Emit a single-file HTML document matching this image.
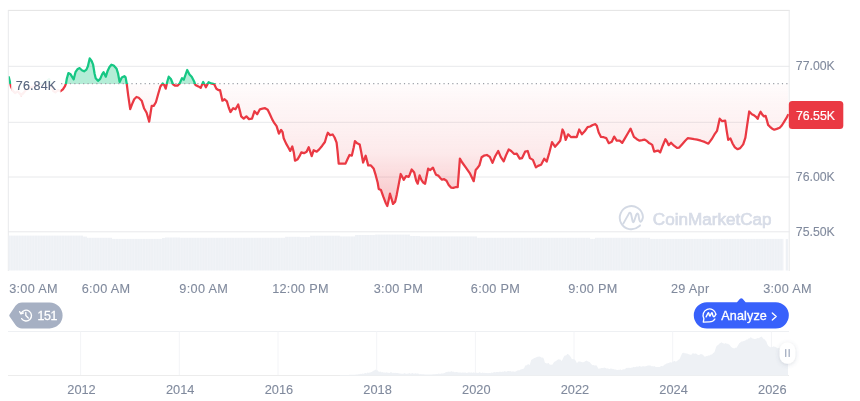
<!DOCTYPE html>
<html><head><meta charset="utf-8"><style>
html,body{margin:0;padding:0;background:#fff;width:860px;height:401px;overflow:hidden}
svg{position:absolute;left:0;top:0;display:block;will-change:transform}
text{font-family:"Liberation Sans", sans-serif}
</style></head><body>
<svg width="860" height="401" viewBox="0 0 860 401">
<defs>
<linearGradient id="rg" x1="0" y1="84" x2="0" y2="206" gradientUnits="userSpaceOnUse">
<stop offset="0.000" stop-color="#ea3943" stop-opacity="0.015"/>
<stop offset="0.156" stop-color="#ea3943" stop-opacity="0.045"/>
<stop offset="0.385" stop-color="#ea3943" stop-opacity="0.076"/>
<stop offset="0.566" stop-color="#ea3943" stop-opacity="0.11"/>
<stop offset="0.713" stop-color="#ea3943" stop-opacity="0.17"/>
<stop offset="0.861" stop-color="#ea3943" stop-opacity="0.24"/>
<stop offset="1.000" stop-color="#ea3943" stop-opacity="0.3"/>
</linearGradient>
<pattern id="vs" width="2.7" height="10" patternUnits="userSpaceOnUse"><rect width="2.7" height="10" fill="#eef1f5"/><rect x="2.1" width="0.6" height="10" fill="#f3f5f8"/></pattern>
<clipPath id="above"><rect x="8.8" y="0" width="780" height="84"/></clipPath>
<clipPath id="below"><rect x="8.8" y="84" width="780" height="300"/></clipPath>
</defs>
<!-- grid -->
<g stroke="#e8e9eb" stroke-width="1" fill="none">
<line x1="8" y1="10.4" x2="789.7" y2="10.4" stroke="#e3e3e3"/>
<line x1="8" y1="66.3" x2="789.7" y2="66.3"/>
<line x1="8" y1="122.3" x2="789.7" y2="122.3"/>
<line x1="8" y1="177" x2="789.7" y2="177"/>
<line x1="8" y1="231.8" x2="789.7" y2="231.8"/>
<line x1="8.3" y1="10" x2="8.3" y2="271"/>
<line x1="789.2" y1="10" x2="789.2" y2="271"/>
</g>
<!-- volume -->
<g fill="url(#vs)">
<rect x="8.5" y="235.6" width="74.5" height="34.9"/>
<rect x="83" y="236.6" width="4.0" height="33.9"/>
<rect x="87" y="237.8" width="25.0" height="32.7"/>
<rect x="112" y="238.9" width="50.0" height="31.6"/>
<rect x="162" y="238" width="3.0" height="32.5"/>
<rect x="165" y="237.5" width="15.0" height="33.0"/>
<rect x="180" y="237.8" width="105.0" height="32.7"/>
<rect x="285" y="236.8" width="15.0" height="33.7"/>
<rect x="300" y="237.1" width="10.0" height="33.4"/>
<rect x="310" y="235.7" width="30.0" height="34.8"/>
<rect x="340" y="236.4" width="15.0" height="34.1"/>
<rect x="355" y="235" width="20.0" height="35.5"/>
<rect x="375" y="234.6" width="35.0" height="35.9"/>
<rect x="410" y="236" width="10.0" height="34.5"/>
<rect x="420" y="236.4" width="57.0" height="34.1"/>
<rect x="477" y="237.8" width="113.0" height="32.7"/>
<rect x="590" y="238.9" width="5.0" height="31.6"/>
<rect x="595" y="237.8" width="55.0" height="32.7"/>
<rect x="650" y="238.9" width="133.4" height="31.6"/>
<rect x="785.7" y="239" width="2.3" height="31.5"/>
</g>
<!-- fills -->
<polygon points="8.8,77.1 11.0,86.5 13.0,91.0 15.0,93.0 18.0,91.5 21.0,95.0 23.0,93.5 26.0,90.0 30.0,88.0 35.0,86.0 40.0,84.0 45.0,83.0 49.0,79.0 53.2,91.0 55.4,92.4 58.0,90.0 60.3,91.3 62.9,89.4 65.0,86.2 66.0,83.4 66.8,78.7 68.4,73.1 70.6,74.3 73.7,79.3 75.6,71.8 77.4,69.3 79.3,68.1 80.0,68.5 81.9,70.3 84.1,71.3 86.4,69.6 87.9,66.2 89.7,58.4 91.6,61.0 93.1,64.7 94.6,73.7 95.7,78.2 98.0,80.8 100.2,78.9 102.1,74.4 103.6,72.2 105.8,76.7 107.7,70.7 109.5,67.0 111.4,64.7 113.7,65.5 116.6,68.8 118.1,73.7 119.6,81.9 121.8,77.4 124.3,76.2 125.6,77.4 126.7,83.5 128.2,95.4 130.2,109.2 132.0,104.4 134.2,99.2 136.5,97.0 138.7,97.7 141.7,100.7 144.0,108.2 146.6,112.7 149.2,121.6 151.7,105.9 153.7,105.9 155.9,102.2 158.2,94.0 160.4,86.5 162.7,83.5 164.2,85.0 165.7,88.7 167.2,82.0 168.7,76.7 170.9,79.0 173.0,84.2 175.2,85.7 177.5,85.7 179.7,83.4 182.0,78.2 183.8,79.7 187.2,70.0 189.5,74.5 191.7,76.7 194.0,81.2 195.4,84.9 198.4,86.4 200.7,87.9 203.2,82.0 205.9,87.2 208.6,82.2 211.2,83.4 214.2,84.2 216.4,88.7 218.7,90.2 220.1,90.2 222.4,100.7 224.6,99.2 226.9,101.4 228.7,107.5 230.5,112.0 233.2,108.2 235.5,109.3 238.2,104.5 240.0,111.2 241.2,116.4 243.7,118.7 246.4,116.4 249.0,119.1 252.0,118.7 254.5,111.2 257.2,114.2 259.9,109.3 262.4,108.7 265.1,108.2 267.7,109.7 269.9,114.2 272.2,119.4 274.4,123.2 276.6,126.2 278.9,133.7 281.1,129.9 282.6,132.2 283.7,138.2 286.0,143.4 288.2,147.2 290.2,150.9 292.3,146.4 293.8,152.4 295.0,160.7 297.7,159.2 299.5,156.2 301.3,152.4 304.0,153.2 306.6,151.7 308.7,147.2 310.2,151.7 311.7,156.2 313.7,150.2 316.7,151.7 319.2,149.4 322.2,145.7 324.9,142.0 326.4,136.7 327.9,132.7 330.1,135.2 332.7,134.5 334.6,137.5 336.6,142.7 337.6,151.7 338.7,163.6 341.7,163.6 345.5,163.6 347.7,158.7 349.5,155.0 351.8,155.7 353.7,147.5 354.9,141.2 357.2,143.3 359.7,144.5 361.2,152.0 363.1,162.5 365.7,155.7 368.2,165.4 370.9,165.4 373.6,168.4 375.7,175.2 377.7,182.7 378.7,188.9 381.0,190.1 383.2,196.4 385.5,202.4 387.3,206.1 388.8,199.4 390.0,193.7 391.5,198.7 393.0,203.9 395.2,201.6 396.7,194.9 399.0,182.9 400.7,174.0 402.7,177.7 403.7,179.9 406.1,176.2 408.7,176.9 409.7,174.7 411.7,169.5 414.2,172.5 416.2,180.7 417.7,183.7 419.6,175.4 421.4,179.9 422.9,182.2 425.1,183.7 426.6,176.2 428.1,168.7 430.1,170.2 433.0,167.7 434.5,171.4 436.0,174.7 438.2,175.6 440.5,178.2 442.0,179.7 444.2,179.2 446.5,180.7 448.7,184.9 451.0,187.6 453.2,187.9 455.4,187.2 457.7,187.2 459.9,158.7 462.2,162.5 465.9,167.7 470.1,173.7 471.9,177.4 473.7,181.2 475.7,169.9 477.6,167.7 479.4,165.4 481.6,157.2 483.9,155.7 486.9,155.0 489.8,156.9 492.5,162.9 495.2,156.2 498.2,151.0 500.7,156.9 503.7,161.4 506.0,155.4 508.7,149.5 511.2,151.0 514.2,154.0 516.7,153.7 519.7,158.7 522.1,158.1 525.1,151.7 527.7,151.0 529.9,158.1 532.9,159.9 535.9,167.4 538.1,165.9 541.1,164.7 544.2,158.7 546.7,161.6 549.3,152.7 552.0,142.2 555.0,146.7 557.7,143.7 560.2,140.7 562.5,129.5 564.0,132.5 565.7,139.9 568.1,134.3 571.1,137.2 573.7,136.9 576.7,137.2 579.2,129.5 581.9,134.3 584.9,131.0 587.6,127.2 590.1,126.5 592.7,125.0 595.4,124.2 596.8,125.7 598.7,132.5 601.0,136.9 603.7,137.2 606.2,138.1 608.8,143.2 611.8,141.7 614.2,136.6 616.7,140.7 619.7,140.7 622.2,142.9 624.9,138.4 627.9,133.2 630.6,128.7 632.4,133.2 633.9,136.9 636.9,139.2 639.6,140.7 642.2,140.2 644.4,139.6 646.6,140.7 648.9,142.9 650.0,143.4 652.2,144.9 654.2,151.6 656.7,150.9 658.2,150.6 660.2,152.4 662.7,145.7 665.4,139.2 666.8,141.2 668.7,145.2 671.0,142.7 674.0,145.7 677.0,147.9 679.2,147.6 682.2,144.2 685.2,140.7 687.7,138.2 691.2,138.6 694.2,139.2 697.2,139.7 700.9,140.7 704.6,141.9 708.4,143.7 711.7,139.2 714.3,134.7 717.0,130.9 719.7,118.7 722.2,121.2 725.2,120.7 726.7,130.9 728.2,139.9 730.4,138.4 732.7,143.7 734.9,147.4 737.6,149.2 740.2,148.1 743.2,144.4 745.4,137.7 747.2,124.9 749.2,111.5 751.9,114.3 754.4,115.6 756.0,116.8 757.7,118.9 759.0,114.9 760.6,111.8 762.5,114.9 764.0,116.4 765.6,115.9 766.8,119.9 768.1,124.9 770.0,126.8 772.2,128.7 774.3,129.7 776.8,128.9 779.7,127.7 781.8,125.5 783.9,122.2 786.2,118.4 788.0,114.9 788.0,84.0 8.8,84.0" fill="url(#rg)" clip-path="url(#below)"/>
<polygon points="8.8,77.1 11.0,86.5 13.0,91.0 15.0,93.0 18.0,91.5 21.0,95.0 23.0,93.5 26.0,90.0 30.0,88.0 35.0,86.0 40.0,84.0 45.0,83.0 49.0,79.0 53.2,91.0 55.4,92.4 58.0,90.0 60.3,91.3 62.9,89.4 65.0,86.2 66.0,83.4 66.8,78.7 68.4,73.1 70.6,74.3 73.7,79.3 75.6,71.8 77.4,69.3 79.3,68.1 80.0,68.5 81.9,70.3 84.1,71.3 86.4,69.6 87.9,66.2 89.7,58.4 91.6,61.0 93.1,64.7 94.6,73.7 95.7,78.2 98.0,80.8 100.2,78.9 102.1,74.4 103.6,72.2 105.8,76.7 107.7,70.7 109.5,67.0 111.4,64.7 113.7,65.5 116.6,68.8 118.1,73.7 119.6,81.9 121.8,77.4 124.3,76.2 125.6,77.4 126.7,83.5 128.2,95.4 130.2,109.2 132.0,104.4 134.2,99.2 136.5,97.0 138.7,97.7 141.7,100.7 144.0,108.2 146.6,112.7 149.2,121.6 151.7,105.9 153.7,105.9 155.9,102.2 158.2,94.0 160.4,86.5 162.7,83.5 164.2,85.0 165.7,88.7 167.2,82.0 168.7,76.7 170.9,79.0 173.0,84.2 175.2,85.7 177.5,85.7 179.7,83.4 182.0,78.2 183.8,79.7 187.2,70.0 189.5,74.5 191.7,76.7 194.0,81.2 195.4,84.9 198.4,86.4 200.7,87.9 203.2,82.0 205.9,87.2 208.6,82.2 211.2,83.4 214.2,84.2 216.4,88.7 218.7,90.2 220.1,90.2 222.4,100.7 224.6,99.2 226.9,101.4 228.7,107.5 230.5,112.0 233.2,108.2 235.5,109.3 238.2,104.5 240.0,111.2 241.2,116.4 243.7,118.7 246.4,116.4 249.0,119.1 252.0,118.7 254.5,111.2 257.2,114.2 259.9,109.3 262.4,108.7 265.1,108.2 267.7,109.7 269.9,114.2 272.2,119.4 274.4,123.2 276.6,126.2 278.9,133.7 281.1,129.9 282.6,132.2 283.7,138.2 286.0,143.4 288.2,147.2 290.2,150.9 292.3,146.4 293.8,152.4 295.0,160.7 297.7,159.2 299.5,156.2 301.3,152.4 304.0,153.2 306.6,151.7 308.7,147.2 310.2,151.7 311.7,156.2 313.7,150.2 316.7,151.7 319.2,149.4 322.2,145.7 324.9,142.0 326.4,136.7 327.9,132.7 330.1,135.2 332.7,134.5 334.6,137.5 336.6,142.7 337.6,151.7 338.7,163.6 341.7,163.6 345.5,163.6 347.7,158.7 349.5,155.0 351.8,155.7 353.7,147.5 354.9,141.2 357.2,143.3 359.7,144.5 361.2,152.0 363.1,162.5 365.7,155.7 368.2,165.4 370.9,165.4 373.6,168.4 375.7,175.2 377.7,182.7 378.7,188.9 381.0,190.1 383.2,196.4 385.5,202.4 387.3,206.1 388.8,199.4 390.0,193.7 391.5,198.7 393.0,203.9 395.2,201.6 396.7,194.9 399.0,182.9 400.7,174.0 402.7,177.7 403.7,179.9 406.1,176.2 408.7,176.9 409.7,174.7 411.7,169.5 414.2,172.5 416.2,180.7 417.7,183.7 419.6,175.4 421.4,179.9 422.9,182.2 425.1,183.7 426.6,176.2 428.1,168.7 430.1,170.2 433.0,167.7 434.5,171.4 436.0,174.7 438.2,175.6 440.5,178.2 442.0,179.7 444.2,179.2 446.5,180.7 448.7,184.9 451.0,187.6 453.2,187.9 455.4,187.2 457.7,187.2 459.9,158.7 462.2,162.5 465.9,167.7 470.1,173.7 471.9,177.4 473.7,181.2 475.7,169.9 477.6,167.7 479.4,165.4 481.6,157.2 483.9,155.7 486.9,155.0 489.8,156.9 492.5,162.9 495.2,156.2 498.2,151.0 500.7,156.9 503.7,161.4 506.0,155.4 508.7,149.5 511.2,151.0 514.2,154.0 516.7,153.7 519.7,158.7 522.1,158.1 525.1,151.7 527.7,151.0 529.9,158.1 532.9,159.9 535.9,167.4 538.1,165.9 541.1,164.7 544.2,158.7 546.7,161.6 549.3,152.7 552.0,142.2 555.0,146.7 557.7,143.7 560.2,140.7 562.5,129.5 564.0,132.5 565.7,139.9 568.1,134.3 571.1,137.2 573.7,136.9 576.7,137.2 579.2,129.5 581.9,134.3 584.9,131.0 587.6,127.2 590.1,126.5 592.7,125.0 595.4,124.2 596.8,125.7 598.7,132.5 601.0,136.9 603.7,137.2 606.2,138.1 608.8,143.2 611.8,141.7 614.2,136.6 616.7,140.7 619.7,140.7 622.2,142.9 624.9,138.4 627.9,133.2 630.6,128.7 632.4,133.2 633.9,136.9 636.9,139.2 639.6,140.7 642.2,140.2 644.4,139.6 646.6,140.7 648.9,142.9 650.0,143.4 652.2,144.9 654.2,151.6 656.7,150.9 658.2,150.6 660.2,152.4 662.7,145.7 665.4,139.2 666.8,141.2 668.7,145.2 671.0,142.7 674.0,145.7 677.0,147.9 679.2,147.6 682.2,144.2 685.2,140.7 687.7,138.2 691.2,138.6 694.2,139.2 697.2,139.7 700.9,140.7 704.6,141.9 708.4,143.7 711.7,139.2 714.3,134.7 717.0,130.9 719.7,118.7 722.2,121.2 725.2,120.7 726.7,130.9 728.2,139.9 730.4,138.4 732.7,143.7 734.9,147.4 737.6,149.2 740.2,148.1 743.2,144.4 745.4,137.7 747.2,124.9 749.2,111.5 751.9,114.3 754.4,115.6 756.0,116.8 757.7,118.9 759.0,114.9 760.6,111.8 762.5,114.9 764.0,116.4 765.6,115.9 766.8,119.9 768.1,124.9 770.0,126.8 772.2,128.7 774.3,129.7 776.8,128.9 779.7,127.7 781.8,125.5 783.9,122.2 786.2,118.4 788.0,114.9 788.0,84.0 8.8,84.0" fill="#16c784" fill-opacity="0.32" clip-path="url(#above)"/>
<!-- watermark -->
<g opacity="1">
<g fill="none" stroke="#d3d9e4" stroke-width="1.9" stroke-linecap="round" stroke-linejoin="round">
<path d="M642.9,216.5 A11.6,11.6 0 1 0 638.8,226.6 Q639.6,226 640,225.4"/>
<path d="M623.3,223.6 L628.9,213.6 Q630,211.8 631,213.8 L632.6,221.3 Q633.2,223.2 634.1,221.3 L636.3,214.6 Q637.4,212.3 638.4,214.7 L639.3,219.8 Q640.2,223.4 641.9,220.6 L642.9,217.6"/>
</g>
<text x="652.8" y="224.6" font-size="17.1" fill="#d7dce7" stroke="#d7dce7" stroke-width="0.7">CoinMarketCap</text>
</g>
<!-- baseline dotted -->
<line x1="61.1" y1="83.6" x2="788" y2="83.6" stroke="#9da1a8" stroke-width="1.1" stroke-dasharray="1.2 3.195"/>
<!-- line -->
<polyline points="8.8,77.1 11.0,86.5 13.0,91.0 15.0,93.0 18.0,91.5 21.0,95.0 23.0,93.5 26.0,90.0 30.0,88.0 35.0,86.0 40.0,84.0 45.0,83.0 49.0,79.0 53.2,91.0 55.4,92.4 58.0,90.0 60.3,91.3 62.9,89.4 65.0,86.2 66.0,83.4 66.8,78.7 68.4,73.1 70.6,74.3 73.7,79.3 75.6,71.8 77.4,69.3 79.3,68.1 80.0,68.5 81.9,70.3 84.1,71.3 86.4,69.6 87.9,66.2 89.7,58.4 91.6,61.0 93.1,64.7 94.6,73.7 95.7,78.2 98.0,80.8 100.2,78.9 102.1,74.4 103.6,72.2 105.8,76.7 107.7,70.7 109.5,67.0 111.4,64.7 113.7,65.5 116.6,68.8 118.1,73.7 119.6,81.9 121.8,77.4 124.3,76.2 125.6,77.4 126.7,83.5 128.2,95.4 130.2,109.2 132.0,104.4 134.2,99.2 136.5,97.0 138.7,97.7 141.7,100.7 144.0,108.2 146.6,112.7 149.2,121.6 151.7,105.9 153.7,105.9 155.9,102.2 158.2,94.0 160.4,86.5 162.7,83.5 164.2,85.0 165.7,88.7 167.2,82.0 168.7,76.7 170.9,79.0 173.0,84.2 175.2,85.7 177.5,85.7 179.7,83.4 182.0,78.2 183.8,79.7 187.2,70.0 189.5,74.5 191.7,76.7 194.0,81.2 195.4,84.9 198.4,86.4 200.7,87.9 203.2,82.0 205.9,87.2 208.6,82.2 211.2,83.4 214.2,84.2 216.4,88.7 218.7,90.2 220.1,90.2 222.4,100.7 224.6,99.2 226.9,101.4 228.7,107.5 230.5,112.0 233.2,108.2 235.5,109.3 238.2,104.5 240.0,111.2 241.2,116.4 243.7,118.7 246.4,116.4 249.0,119.1 252.0,118.7 254.5,111.2 257.2,114.2 259.9,109.3 262.4,108.7 265.1,108.2 267.7,109.7 269.9,114.2 272.2,119.4 274.4,123.2 276.6,126.2 278.9,133.7 281.1,129.9 282.6,132.2 283.7,138.2 286.0,143.4 288.2,147.2 290.2,150.9 292.3,146.4 293.8,152.4 295.0,160.7 297.7,159.2 299.5,156.2 301.3,152.4 304.0,153.2 306.6,151.7 308.7,147.2 310.2,151.7 311.7,156.2 313.7,150.2 316.7,151.7 319.2,149.4 322.2,145.7 324.9,142.0 326.4,136.7 327.9,132.7 330.1,135.2 332.7,134.5 334.6,137.5 336.6,142.7 337.6,151.7 338.7,163.6 341.7,163.6 345.5,163.6 347.7,158.7 349.5,155.0 351.8,155.7 353.7,147.5 354.9,141.2 357.2,143.3 359.7,144.5 361.2,152.0 363.1,162.5 365.7,155.7 368.2,165.4 370.9,165.4 373.6,168.4 375.7,175.2 377.7,182.7 378.7,188.9 381.0,190.1 383.2,196.4 385.5,202.4 387.3,206.1 388.8,199.4 390.0,193.7 391.5,198.7 393.0,203.9 395.2,201.6 396.7,194.9 399.0,182.9 400.7,174.0 402.7,177.7 403.7,179.9 406.1,176.2 408.7,176.9 409.7,174.7 411.7,169.5 414.2,172.5 416.2,180.7 417.7,183.7 419.6,175.4 421.4,179.9 422.9,182.2 425.1,183.7 426.6,176.2 428.1,168.7 430.1,170.2 433.0,167.7 434.5,171.4 436.0,174.7 438.2,175.6 440.5,178.2 442.0,179.7 444.2,179.2 446.5,180.7 448.7,184.9 451.0,187.6 453.2,187.9 455.4,187.2 457.7,187.2 459.9,158.7 462.2,162.5 465.9,167.7 470.1,173.7 471.9,177.4 473.7,181.2 475.7,169.9 477.6,167.7 479.4,165.4 481.6,157.2 483.9,155.7 486.9,155.0 489.8,156.9 492.5,162.9 495.2,156.2 498.2,151.0 500.7,156.9 503.7,161.4 506.0,155.4 508.7,149.5 511.2,151.0 514.2,154.0 516.7,153.7 519.7,158.7 522.1,158.1 525.1,151.7 527.7,151.0 529.9,158.1 532.9,159.9 535.9,167.4 538.1,165.9 541.1,164.7 544.2,158.7 546.7,161.6 549.3,152.7 552.0,142.2 555.0,146.7 557.7,143.7 560.2,140.7 562.5,129.5 564.0,132.5 565.7,139.9 568.1,134.3 571.1,137.2 573.7,136.9 576.7,137.2 579.2,129.5 581.9,134.3 584.9,131.0 587.6,127.2 590.1,126.5 592.7,125.0 595.4,124.2 596.8,125.7 598.7,132.5 601.0,136.9 603.7,137.2 606.2,138.1 608.8,143.2 611.8,141.7 614.2,136.6 616.7,140.7 619.7,140.7 622.2,142.9 624.9,138.4 627.9,133.2 630.6,128.7 632.4,133.2 633.9,136.9 636.9,139.2 639.6,140.7 642.2,140.2 644.4,139.6 646.6,140.7 648.9,142.9 650.0,143.4 652.2,144.9 654.2,151.6 656.7,150.9 658.2,150.6 660.2,152.4 662.7,145.7 665.4,139.2 666.8,141.2 668.7,145.2 671.0,142.7 674.0,145.7 677.0,147.9 679.2,147.6 682.2,144.2 685.2,140.7 687.7,138.2 691.2,138.6 694.2,139.2 697.2,139.7 700.9,140.7 704.6,141.9 708.4,143.7 711.7,139.2 714.3,134.7 717.0,130.9 719.7,118.7 722.2,121.2 725.2,120.7 726.7,130.9 728.2,139.9 730.4,138.4 732.7,143.7 734.9,147.4 737.6,149.2 740.2,148.1 743.2,144.4 745.4,137.7 747.2,124.9 749.2,111.5 751.9,114.3 754.4,115.6 756.0,116.8 757.7,118.9 759.0,114.9 760.6,111.8 762.5,114.9 764.0,116.4 765.6,115.9 766.8,119.9 768.1,124.9 770.0,126.8 772.2,128.7 774.3,129.7 776.8,128.9 779.7,127.7 781.8,125.5 783.9,122.2 786.2,118.4 788.0,114.9" fill="none" stroke="#ea3943" stroke-width="2.25" stroke-linejoin="round" stroke-linecap="round" clip-path="url(#below)"/>
<polyline points="8.8,77.1 11.0,86.5 13.0,91.0 15.0,93.0 18.0,91.5 21.0,95.0 23.0,93.5 26.0,90.0 30.0,88.0 35.0,86.0 40.0,84.0 45.0,83.0 49.0,79.0 53.2,91.0 55.4,92.4 58.0,90.0 60.3,91.3 62.9,89.4 65.0,86.2 66.0,83.4 66.8,78.7 68.4,73.1 70.6,74.3 73.7,79.3 75.6,71.8 77.4,69.3 79.3,68.1 80.0,68.5 81.9,70.3 84.1,71.3 86.4,69.6 87.9,66.2 89.7,58.4 91.6,61.0 93.1,64.7 94.6,73.7 95.7,78.2 98.0,80.8 100.2,78.9 102.1,74.4 103.6,72.2 105.8,76.7 107.7,70.7 109.5,67.0 111.4,64.7 113.7,65.5 116.6,68.8 118.1,73.7 119.6,81.9 121.8,77.4 124.3,76.2 125.6,77.4 126.7,83.5 128.2,95.4 130.2,109.2 132.0,104.4 134.2,99.2 136.5,97.0 138.7,97.7 141.7,100.7 144.0,108.2 146.6,112.7 149.2,121.6 151.7,105.9 153.7,105.9 155.9,102.2 158.2,94.0 160.4,86.5 162.7,83.5 164.2,85.0 165.7,88.7 167.2,82.0 168.7,76.7 170.9,79.0 173.0,84.2 175.2,85.7 177.5,85.7 179.7,83.4 182.0,78.2 183.8,79.7 187.2,70.0 189.5,74.5 191.7,76.7 194.0,81.2 195.4,84.9 198.4,86.4 200.7,87.9 203.2,82.0 205.9,87.2 208.6,82.2 211.2,83.4 214.2,84.2 216.4,88.7 218.7,90.2 220.1,90.2 222.4,100.7 224.6,99.2 226.9,101.4 228.7,107.5 230.5,112.0 233.2,108.2 235.5,109.3 238.2,104.5 240.0,111.2 241.2,116.4 243.7,118.7 246.4,116.4 249.0,119.1 252.0,118.7 254.5,111.2 257.2,114.2 259.9,109.3 262.4,108.7 265.1,108.2 267.7,109.7 269.9,114.2 272.2,119.4 274.4,123.2 276.6,126.2 278.9,133.7 281.1,129.9 282.6,132.2 283.7,138.2 286.0,143.4 288.2,147.2 290.2,150.9 292.3,146.4 293.8,152.4 295.0,160.7 297.7,159.2 299.5,156.2 301.3,152.4 304.0,153.2 306.6,151.7 308.7,147.2 310.2,151.7 311.7,156.2 313.7,150.2 316.7,151.7 319.2,149.4 322.2,145.7 324.9,142.0 326.4,136.7 327.9,132.7 330.1,135.2 332.7,134.5 334.6,137.5 336.6,142.7 337.6,151.7 338.7,163.6 341.7,163.6 345.5,163.6 347.7,158.7 349.5,155.0 351.8,155.7 353.7,147.5 354.9,141.2 357.2,143.3 359.7,144.5 361.2,152.0 363.1,162.5 365.7,155.7 368.2,165.4 370.9,165.4 373.6,168.4 375.7,175.2 377.7,182.7 378.7,188.9 381.0,190.1 383.2,196.4 385.5,202.4 387.3,206.1 388.8,199.4 390.0,193.7 391.5,198.7 393.0,203.9 395.2,201.6 396.7,194.9 399.0,182.9 400.7,174.0 402.7,177.7 403.7,179.9 406.1,176.2 408.7,176.9 409.7,174.7 411.7,169.5 414.2,172.5 416.2,180.7 417.7,183.7 419.6,175.4 421.4,179.9 422.9,182.2 425.1,183.7 426.6,176.2 428.1,168.7 430.1,170.2 433.0,167.7 434.5,171.4 436.0,174.7 438.2,175.6 440.5,178.2 442.0,179.7 444.2,179.2 446.5,180.7 448.7,184.9 451.0,187.6 453.2,187.9 455.4,187.2 457.7,187.2 459.9,158.7 462.2,162.5 465.9,167.7 470.1,173.7 471.9,177.4 473.7,181.2 475.7,169.9 477.6,167.7 479.4,165.4 481.6,157.2 483.9,155.7 486.9,155.0 489.8,156.9 492.5,162.9 495.2,156.2 498.2,151.0 500.7,156.9 503.7,161.4 506.0,155.4 508.7,149.5 511.2,151.0 514.2,154.0 516.7,153.7 519.7,158.7 522.1,158.1 525.1,151.7 527.7,151.0 529.9,158.1 532.9,159.9 535.9,167.4 538.1,165.9 541.1,164.7 544.2,158.7 546.7,161.6 549.3,152.7 552.0,142.2 555.0,146.7 557.7,143.7 560.2,140.7 562.5,129.5 564.0,132.5 565.7,139.9 568.1,134.3 571.1,137.2 573.7,136.9 576.7,137.2 579.2,129.5 581.9,134.3 584.9,131.0 587.6,127.2 590.1,126.5 592.7,125.0 595.4,124.2 596.8,125.7 598.7,132.5 601.0,136.9 603.7,137.2 606.2,138.1 608.8,143.2 611.8,141.7 614.2,136.6 616.7,140.7 619.7,140.7 622.2,142.9 624.9,138.4 627.9,133.2 630.6,128.7 632.4,133.2 633.9,136.9 636.9,139.2 639.6,140.7 642.2,140.2 644.4,139.6 646.6,140.7 648.9,142.9 650.0,143.4 652.2,144.9 654.2,151.6 656.7,150.9 658.2,150.6 660.2,152.4 662.7,145.7 665.4,139.2 666.8,141.2 668.7,145.2 671.0,142.7 674.0,145.7 677.0,147.9 679.2,147.6 682.2,144.2 685.2,140.7 687.7,138.2 691.2,138.6 694.2,139.2 697.2,139.7 700.9,140.7 704.6,141.9 708.4,143.7 711.7,139.2 714.3,134.7 717.0,130.9 719.7,118.7 722.2,121.2 725.2,120.7 726.7,130.9 728.2,139.9 730.4,138.4 732.7,143.7 734.9,147.4 737.6,149.2 740.2,148.1 743.2,144.4 745.4,137.7 747.2,124.9 749.2,111.5 751.9,114.3 754.4,115.6 756.0,116.8 757.7,118.9 759.0,114.9 760.6,111.8 762.5,114.9 764.0,116.4 765.6,115.9 766.8,119.9 768.1,124.9 770.0,126.8 772.2,128.7 774.3,129.7 776.8,128.9 779.7,127.7 781.8,125.5 783.9,122.2 786.2,118.4 788.0,114.9" fill="none" stroke="#16c784" stroke-width="2.25" stroke-linejoin="round" stroke-linecap="round" clip-path="url(#above)"/>
<!-- left label -->
<rect x="11.2" y="74" width="49.3" height="22" fill="#fff" fill-opacity="0.93"/>
<text x="15.8" y="89.7" font-size="12.5" fill="#58667e" stroke="#58667e" stroke-width="0.15" letter-spacing="0.15">76.84K</text>
<!-- right labels -->
<g font-size="12.3" fill="#808a9d" stroke="#808a9d" stroke-width="0.1">
<text x="795.8" y="70.2">77.00K</text>
<text x="795.8" y="181">76.00K</text>
<text x="795.8" y="236">75.50K</text>
</g>
<rect x="788.8" y="101" width="54.5" height="28" rx="3.5" fill="#ea3943"/>
<text x="796" y="120" font-size="12.3" fill="#fff" stroke="#fff" stroke-width="0.2">76.55K</text>
<!-- x labels -->
<g font-size="12.7" fill="#808a9d" stroke="#808a9d" stroke-width="0.1" text-anchor="middle" letter-spacing="0.3">
<text x="33.5" y="293">3:00 AM</text>
<text x="106" y="293">6:00 AM</text>
<text x="203.7" y="293">9:00 AM</text>
<text x="300.5" y="293">12:00 PM</text>
<text x="398.4" y="293">3:00 PM</text>
<text x="495.5" y="293">6:00 PM</text>
<text x="592.9" y="293">9:00 PM</text>
<text x="690.2" y="293">29 Apr</text>
<text x="787.5" y="293">3:00 AM</text>
</g>
<!-- badge 151 -->
<path d="M9.6,314.6 Q8.8,315.5 9.6,316.4 L15.5,325 Q18,328.4 22,328.4 L49.6,328.4 A13,13 0 0 0 49.6,302.4 L22,302.4 Q18,302.4 15.5,305.8 Z" fill="#a6b0c3"/>
<g fill="none" stroke="#fff" stroke-width="1.35" stroke-linecap="round" stroke-linejoin="round">
<path d="M21.2,313.3 A5.4,5.4 0 1 1 21.6,318.6"/>
<path d="M19.6,311.6 L20.9,313.9 L23.3,313"/>
<path d="M25.8,312.4 L25.8,315.6 L28.3,318"/>
</g>
<text x="37.6" y="320" font-size="12.4" fill="#fff" stroke="#fff" stroke-width="0.3" letter-spacing="-0.5">151</text>
<!-- analyze -->
<path d="M706.9,302.2 L737,302.2 L740,298.8 Q741.3,297.6 742.6,298.8 L745.6,302.2 L775.7,302.2 A13.15,13.15 0 0 1 775.7,328.5 L706.9,328.5 A13.15,13.15 0 0 1 706.9,302.2 Z" fill="#3861fb"/>
<g fill="none" stroke="#fff" stroke-width="1.35" stroke-linecap="round" stroke-linejoin="round">
<path d="M715.9,314.2 A6.5,6.5 0 1 0 703.9,318.7 L703.3,322.1 L709.5,321.9 A6.5,6.5 0 0 0 714.9,319"/>
<path d="M706.1,316.9 L708,313.1 Q708.4,312.4 708.8,313.1 L709.5,315.8 Q709.8,316.5 710.2,315.8 L711.5,313.1 Q711.9,312.4 712.3,313.1 L712.9,315.8 Q713.4,317.3 714.6,316.4 L715.8,314.3"/>
<path d="M772.3,313 L776.2,316.5 L772.3,320"/>
</g>
<text x="721.3" y="320" font-size="12.6" fill="#fff" stroke="#fff" stroke-width="0.3" letter-spacing="0.12">Analyze</text>
<!-- navigator -->
<g stroke="#f3f4f7" stroke-width="1" fill="none">
<line x1="8" y1="331.5" stroke="#eef0f3" x2="789" y2="331.5"/>
<line x1="8" y1="375.5" x2="789" y2="375.5" stroke="#ececec"/>
<line x1="80.6" y1="331.5" x2="80.6" y2="375"/>
<line x1="179.3" y1="331.5" x2="179.3" y2="375"/>
<line x1="278.0" y1="331.5" x2="278.0" y2="375"/>
<line x1="376.7" y1="331.5" x2="376.7" y2="375"/>
<line x1="475.4" y1="331.5" x2="475.4" y2="375"/>
<line x1="574.0" y1="331.5" x2="574.0" y2="375"/>
<line x1="672.7" y1="331.5" x2="672.7" y2="375"/>
<line x1="771.4" y1="331.5" x2="771.4" y2="375"/>
</g>
<polygon points="340.0,375.1 340.8,375.1 341.6,375.1 342.4,375.0 343.2,375.0 344.0,375.0 344.8,375.0 345.6,374.9 346.4,374.9 347.2,374.9 348.0,374.9 348.8,374.9 349.6,374.8 350.4,374.8 351.2,374.8 352.0,374.8 352.8,374.8 353.6,374.7 354.4,374.7 355.2,374.7 356.0,374.6 356.8,374.5 357.6,374.4 358.4,374.3 359.2,374.2 360.0,374.1 360.8,373.7 361.6,373.9 362.4,373.6 363.2,373.7 364.0,373.7 364.8,373.1 365.6,372.9 366.4,373.5 367.2,372.8 368.0,372.6 368.8,373.1 369.6,372.4 370.4,372.6 371.2,372.1 372.0,371.9 372.8,370.9 373.6,370.8 374.4,370.4 375.2,369.6 376.0,370.1 376.8,370.4 377.6,370.3 378.4,371.4 379.2,371.7 380.0,371.8 380.8,371.6 381.6,372.4 382.4,372.1 383.2,372.4 384.0,372.6 384.8,372.5 385.6,372.7 386.4,372.3 387.2,372.7 388.0,372.4 388.8,372.9 389.6,372.9 390.4,372.2 391.2,372.3 392.0,372.4 392.8,373.2 393.6,372.8 394.4,373.0 395.2,372.8 396.0,373.0 396.8,373.0 397.6,373.0 398.4,373.3 399.2,373.3 400.0,373.7 400.8,373.5 401.6,373.8 402.4,373.7 403.2,373.8 404.0,373.6 404.8,373.1 405.6,373.7 406.4,373.8 407.2,373.8 408.0,373.5 408.8,373.6 409.6,373.1 410.4,373.7 411.2,373.5 412.0,373.2 412.8,373.0 413.6,373.7 414.4,373.8 415.2,373.1 416.0,373.8 416.8,373.6 417.6,373.4 418.4,373.6 419.2,374.2 420.0,374.3 420.8,374.1 421.6,374.2 422.4,374.2 423.2,374.3 424.0,374.3 424.8,374.4 425.6,374.4 426.4,374.4 427.2,374.5 428.0,374.5 428.8,374.6 429.6,374.6 430.4,374.5 431.2,374.5 432.0,374.4 432.8,374.3 433.6,374.3 434.4,374.2 435.2,374.2 436.0,374.1 436.8,374.1 437.6,374.0 438.4,373.5 439.2,374.0 440.0,373.4 440.8,373.9 441.6,373.3 442.4,373.6 443.2,373.5 444.0,372.9 444.8,373.1 445.6,372.2 446.4,371.9 447.2,372.2 448.0,371.6 448.8,371.7 449.6,371.8 450.4,371.8 451.2,371.3 452.0,371.2 452.8,372.0 453.6,371.6 454.4,372.3 455.2,372.3 456.0,371.9 456.8,372.0 457.6,372.2 458.4,372.4 459.2,372.4 460.0,372.4 460.8,372.5 461.6,372.8 462.4,372.5 463.2,372.5 464.0,372.8 464.8,372.4 465.6,372.5 466.4,373.1 467.2,372.7 468.0,372.7 468.8,372.3 469.6,372.6 470.4,372.8 471.2,372.3 472.0,372.8 472.8,372.8 473.6,372.3 474.4,372.8 475.2,372.7 476.0,372.9 476.8,372.6 477.6,372.9 478.4,372.9 479.2,372.3 480.0,372.3 480.8,372.9 481.6,373.1 482.4,372.6 483.2,372.8 484.0,373.0 484.8,372.8 485.6,372.9 486.4,372.9 487.2,373.1 488.0,373.3 488.8,373.1 489.6,373.0 490.4,373.3 491.2,372.4 492.0,372.8 492.8,372.8 493.6,372.3 494.4,372.1 495.2,372.5 496.0,372.0 496.8,371.9 497.6,372.1 498.4,372.3 499.2,371.7 500.0,371.8 500.8,371.7 501.6,372.1 502.4,371.6 503.2,371.9 504.0,371.2 504.8,371.2 505.6,371.5 506.4,371.7 507.2,371.2 508.0,371.0 508.8,370.9 509.6,371.3 510.4,371.0 511.2,371.6 512.0,371.7 512.8,371.2 513.6,371.4 514.4,371.8 515.2,371.4 516.0,371.4 516.8,370.8 517.6,370.4 518.4,370.3 519.2,370.5 520.0,369.8 520.8,369.6 521.6,369.3 522.4,369.0 523.2,368.7 524.0,368.6 524.8,366.6 525.6,365.2 526.4,365.4 527.2,364.7 528.0,364.3 528.8,364.3 529.6,365.3 530.4,362.8 531.2,360.1 532.0,359.6 532.8,358.9 533.6,358.5 534.4,358.1 535.2,357.7 536.0,357.5 536.8,357.1 537.6,356.7 538.4,356.8 539.2,356.2 540.0,356.9 540.8,356.7 541.6,357.8 542.4,357.6 543.2,357.8 544.0,359.3 544.8,362.5 545.6,363.0 546.4,363.3 547.2,363.7 548.0,362.8 548.8,363.3 549.6,364.4 550.4,364.7 551.2,364.6 552.0,365.1 552.8,364.1 553.6,362.8 554.4,361.7 555.2,361.5 556.0,360.7 556.8,360.5 557.6,359.7 558.4,359.3 559.2,359.4 560.0,359.6 560.8,359.8 561.6,361.2 562.4,359.7 563.2,358.1 564.0,356.6 564.8,355.4 565.6,355.4 566.4,355.2 567.2,354.1 568.0,354.0 568.8,354.7 569.6,355.6 570.4,356.5 571.2,357.8 572.0,359.3 572.8,358.9 573.6,359.2 574.4,359.5 575.2,360.0 576.0,361.2 576.8,363.1 577.6,362.6 578.4,361.5 579.2,361.5 580.0,361.6 580.8,361.8 581.6,362.0 582.4,362.3 583.2,362.3 584.0,362.0 584.8,361.4 585.6,361.1 586.4,360.5 587.2,361.0 588.0,361.6 588.8,361.7 589.6,362.1 590.4,363.0 591.2,363.9 592.0,364.8 592.8,365.2 593.6,365.0 594.4,365.6 595.2,365.4 596.0,365.2 596.8,365.7 597.6,367.3 598.4,368.7 599.2,368.4 600.0,368.6 600.8,368.3 601.6,368.0 602.4,368.1 603.2,368.2 604.0,367.5 604.8,367.7 605.6,367.9 606.4,368.4 607.2,368.6 608.0,368.3 608.8,368.9 609.6,368.9 610.4,368.5 611.2,368.7 612.0,368.5 612.8,369.2 613.6,369.1 614.4,369.4 615.2,369.6 616.0,369.6 616.8,369.9 617.6,369.9 618.4,369.7 619.2,370.1 620.0,369.6 620.8,369.6 621.6,370.2 622.4,369.4 623.2,369.4 624.0,369.1 624.8,369.4 625.6,368.4 626.4,367.8 627.2,368.3 628.0,367.6 628.8,368.1 629.6,367.8 630.4,367.9 631.2,367.8 632.0,367.4 632.8,367.5 633.6,366.7 634.4,367.3 635.2,367.0 636.0,367.0 636.8,366.3 637.6,366.7 638.4,366.7 639.2,366.0 640.0,366.2 640.8,366.5 641.6,366.8 642.4,366.3 643.2,366.3 644.0,366.2 644.8,366.4 645.6,366.3 646.4,365.9 647.2,365.7 648.0,365.6 648.8,365.4 649.6,365.6 650.4,365.4 651.2,365.9 652.0,366.5 652.8,366.1 653.6,366.5 654.4,366.1 655.2,366.7 656.0,366.9 656.8,367.0 657.6,366.9 658.4,366.9 659.2,366.9 660.0,367.0 660.8,366.1 661.6,365.9 662.4,366.3 663.2,366.1 664.0,365.1 664.8,364.5 665.6,364.3 666.4,363.6 667.2,363.4 668.0,363.0 668.8,363.1 669.6,362.6 670.4,362.3 671.2,362.5 672.0,362.4 672.8,361.5 673.6,361.4 674.4,360.7 675.2,361.4 676.0,361.4 676.8,361.3 677.6,360.6 678.4,359.8 679.2,359.5 680.0,358.3 680.8,356.2 681.6,354.5 682.4,352.9 683.2,353.1 684.0,352.6 684.8,353.5 685.6,353.2 686.4,353.5 687.2,353.5 688.0,354.0 688.8,354.3 689.6,354.5 690.4,354.8 691.2,354.8 692.0,354.2 692.8,353.1 693.6,353.4 694.4,353.8 695.2,353.6 696.0,353.6 696.8,354.0 697.6,354.8 698.4,355.1 699.2,354.9 700.0,354.4 700.8,354.1 701.6,354.2 702.4,354.6 703.2,355.1 704.0,356.1 704.8,356.7 705.6,356.6 706.4,355.9 707.2,356.3 708.0,355.6 708.8,355.5 709.6,355.5 710.4,354.7 711.2,354.4 712.0,354.6 712.8,353.4 713.6,352.8 714.4,352.2 715.2,350.1 716.0,347.3 716.8,345.8 717.6,345.3 718.4,344.7 719.2,343.7 720.0,343.3 720.8,342.8 721.6,342.2 722.4,343.0 723.2,343.2 724.0,343.5 724.8,343.7 725.6,343.0 726.4,343.5 727.2,343.9 728.0,343.5 728.8,344.5 729.6,344.7 730.4,346.0 731.2,346.9 732.0,347.5 732.8,348.1 733.6,348.3 734.4,348.6 735.2,347.7 736.0,347.8 736.8,347.5 737.6,346.0 738.4,344.7 739.2,343.3 740.0,342.8 740.8,341.9 741.6,341.6 742.4,341.4 743.2,341.2 744.0,340.7 744.8,340.7 745.6,340.3 746.4,339.4 747.2,339.7 748.0,339.1 748.8,338.2 749.6,338.4 750.4,337.2 751.2,337.6 752.0,338.2 752.8,338.4 753.6,338.7 754.4,339.1 755.2,339.1 756.0,338.8 756.8,338.4 757.6,338.1 758.4,338.3 759.2,337.9 760.0,337.3 760.8,336.9 761.6,336.4 762.4,337.4 763.2,338.6 764.0,339.5 764.8,339.3 765.6,340.8 766.4,341.6 767.2,343.9 768.0,345.5 768.8,346.2 769.6,346.7 770.4,347.2 771.2,347.3 772.0,346.8 772.8,347.0 773.6,346.3 774.4,346.7 775.2,346.7 776.0,347.0 776.8,348.0 777.6,348.3 778.4,348.1 779.2,348.3 780.0,348.7 780.8,349.2 781.6,349.4 782.4,349.4 783.2,349.4 784.0,349.1 784.8,349.5 785.6,349.4 786.4,349.8 787.2,349.9 788.0,349.7 788.0,375.5 340.0,375.5" fill="#eef1f5"/>
<g font-size="12.8" fill="#808a9d" stroke="#808a9d" stroke-width="0.1" text-anchor="middle">
<text x="81.5" y="393.6">2012</text>
<text x="180.2" y="393.6">2014</text>
<text x="278.9" y="393.6">2016</text>
<text x="377.6" y="393.6">2018</text>
<text x="476.3" y="393.6">2020</text>
<text x="574.9" y="393.6">2022</text>
<text x="673.6" y="393.6">2024</text>
<text x="772.3" y="393.6">2026</text>
</g>
<defs><filter id="sh" x="-50%" y="-50%" width="200%" height="200%"><feDropShadow dx="0" dy="1" stdDeviation="2.2" flood-color="#58667e" flood-opacity="0.22"/></filter></defs>
<rect x="779.6" y="342.4" width="15.7" height="21.3" rx="7.8" fill="#fff" filter="url(#sh)"/>
<rect x="785" y="349" width="1.4" height="8" rx="0.5" fill="#aab3c5"/>
<rect x="788.5" y="349" width="1.4" height="8" rx="0.5" fill="#aab3c5"/>
</svg>
</body></html>
